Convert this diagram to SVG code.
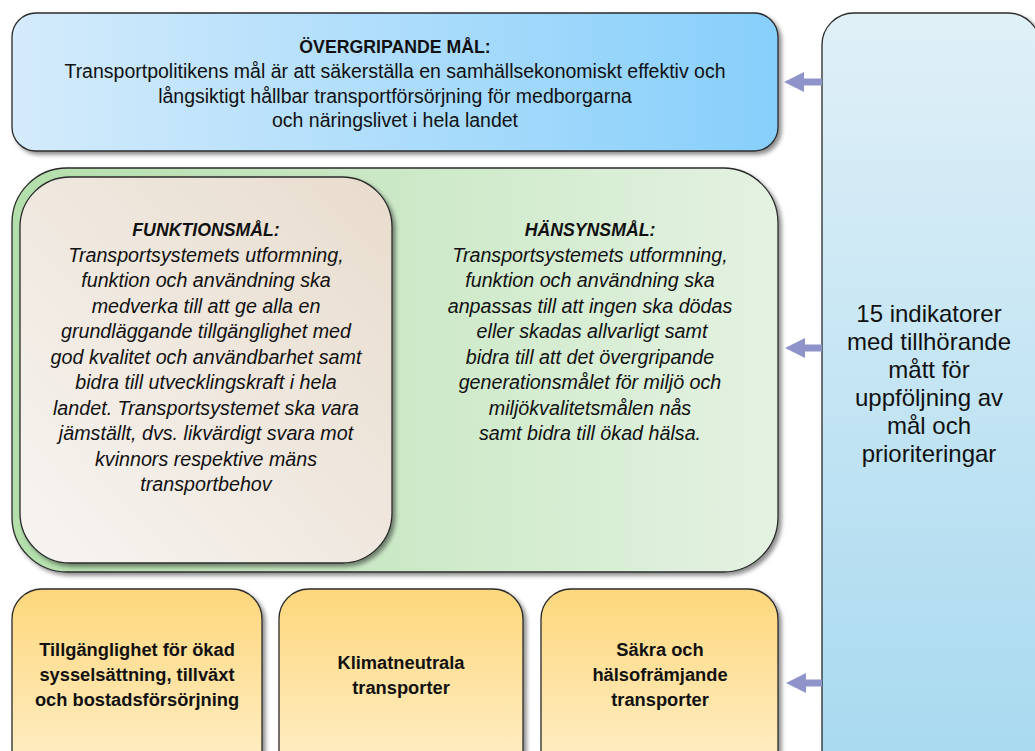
<svg xmlns="http://www.w3.org/2000/svg" width="1035" height="751" viewBox="0 0 1035 751">
<defs>
<linearGradient id="gTop" x1="0" y1="0" x2="1" y2="0">
<stop offset="0" stop-color="#d4ebfb"/><stop offset="1" stop-color="#87cffb"/>
</linearGradient>
<linearGradient id="gRight" x1="0" y1="0" x2="0" y2="1">
<stop offset="0" stop-color="#e0f0f7"/><stop offset="1" stop-color="#a5d8ef"/>
</linearGradient>
<linearGradient id="gGreen" x1="0" y1="0" x2="1" y2="0">
<stop offset="0" stop-color="#b3dfab"/><stop offset="1" stop-color="#e4f2e2"/>
</linearGradient>
<linearGradient id="gBeige" x1="0" y1="1" x2="1" y2="0">
<stop offset="0" stop-color="#f7f4f1"/><stop offset="1" stop-color="#e8dccd"/>
</linearGradient>
<linearGradient id="gYellow" x1="0" y1="0" x2="0" y2="1">
<stop offset="0" stop-color="#fdd77c"/><stop offset="1" stop-color="#fff3d6"/>
</linearGradient>
<filter id="sh" x="-5%" y="-5%" width="112%" height="112%">
<feDropShadow dx="3" dy="3" stdDeviation="2" flood-color="#000" flood-opacity="0.45"/>
</filter>
<style>
.box{stroke:#2b2b2b;stroke-width:1.3;filter:url(#sh)}
.t{font-family:"Liberation Sans",Arial,sans-serif;fill:#111;text-anchor:middle}
.r{font-size:19.5px}
.i{font-size:19.7px;font-style:italic}
.b{font-size:18.3px;font-weight:bold}
.h{font-size:17.7px;font-weight:bold}
.hi{font-size:17.7px;font-weight:bold;font-style:italic}
.big{font-size:24px}
.arr{fill:#8e93c9}
</style>
</defs>
<rect width="1035" height="751" fill="#ffffff"/>

<g id="indikatorer">
<rect class="box" x="822" y="13" width="218" height="790" rx="32" fill="url(#gRight)"/>
<text class="t big" x="929"><tspan x="929" y="322">15 indikatorer</tspan><tspan x="929" y="350">med tillhörande</tspan><tspan x="929" y="378">mått för</tspan><tspan x="929" y="406">uppföljning av</tspan><tspan x="929" y="434">mål och</tspan><tspan x="929" y="462">prioriteringar</tspan></text>
</g>

<g id="overgripande">
<rect class="box" x="12" y="13" width="766" height="138" rx="24" fill="url(#gTop)"/>
<text class="t h" x="395" y="53">ÖVERGRIPANDE MÅL:</text>
<text class="t r"><tspan x="395" y="78">Transportpolitikens mål är att säkerställa en samhällsekonomiskt effektiv och</tspan><tspan x="395" y="102.5">långsiktigt hållbar transportförsörjning för medborgarna</tspan><tspan x="395" y="127">och näringslivet i hela landet</tspan></text>
</g>

<g id="hansynsmal">
<rect class="box" x="12" y="168" width="766" height="404" rx="55" fill="url(#gGreen)"/>
<text class="t hi" x="590" y="236">HÄNSYNSMÅL:</text>
<text class="t i"><tspan x="590" y="261.5">Transportsystemets utformning,</tspan><tspan x="590" y="287">funktion och användning ska</tspan><tspan x="590" y="312.5">anpassas till att ingen ska dödas</tspan><tspan x="592" y="338">eller skadas allvarligt samt</tspan><tspan x="590" y="363.5">bidra till att det övergripande</tspan><tspan x="590" y="389">generationsmålet för miljö och</tspan><tspan x="590" y="414.5">miljökvalitetsmålen nås</tspan><tspan x="590" y="440">samt bidra till ökad hälsa.</tspan></text>
</g>

<g id="funktionsmal">
<rect class="box" x="20" y="177" width="372" height="386" rx="50" fill="url(#gBeige)"/>
<text class="t hi" x="206" y="236">FUNKTIONSMÅL:</text>
<text class="t i"><tspan x="206" y="261.5">Transportsystemets utformning,</tspan><tspan x="206" y="287">funktion och användning ska</tspan><tspan x="206" y="312.5">medverka till att ge alla en</tspan><tspan x="206" y="338">grundläggande tillgänglighet med</tspan><tspan x="206" y="363.5">god kvalitet och användbarhet samt</tspan><tspan x="206" y="389">bidra till utvecklingskraft i hela</tspan><tspan x="206" y="414.5">landet. Transportsystemet ska vara</tspan><tspan x="206" y="440">jämställt, dvs. likvärdigt svara mot</tspan><tspan x="206" y="465.5">kvinnors respektive mäns</tspan><tspan x="206" y="491">transportbehov</tspan></text>
</g>

<g id="tillganglighet">
<rect class="box" x="12" y="589" width="250" height="220" rx="30" fill="url(#gYellow)"/>
<text class="t b"><tspan x="137" y="656">Tillgänglighet för ökad</tspan><tspan x="137" y="681">sysselsättning, tillväxt</tspan><tspan x="137" y="706">och bostadsförsörjning</tspan></text>
</g>

<g id="klimatneutrala">
<rect class="box" x="279" y="589" width="244" height="220" rx="30" fill="url(#gYellow)"/>
<text class="t b"><tspan x="401" y="668.5">Klimatneutrala</tspan><tspan x="401" y="693.5">transporter</tspan></text>
</g>

<g id="sakra">
<rect class="box" x="541" y="589" width="237" height="220" rx="30" fill="url(#gYellow)"/>
<text class="t b"><tspan x="660" y="655.5">Säkra och</tspan><tspan x="660" y="681">hälsofrämjande</tspan><tspan x="660" y="706">transporter</tspan></text>
</g>

<g id="connectors">
<path class="arr" d="M822,78.5 H804 V72 L784,82 L804,92 V85.5 H822 Z"/>
<path class="arr" d="M822,344.5 H805 V338 L785,348 L805,358 V351.5 H822 Z"/>
<path class="arr" d="M822,679.5 H806 V673 L786,683 L806,693 V686.5 H822 Z"/>
</g>
</svg>
